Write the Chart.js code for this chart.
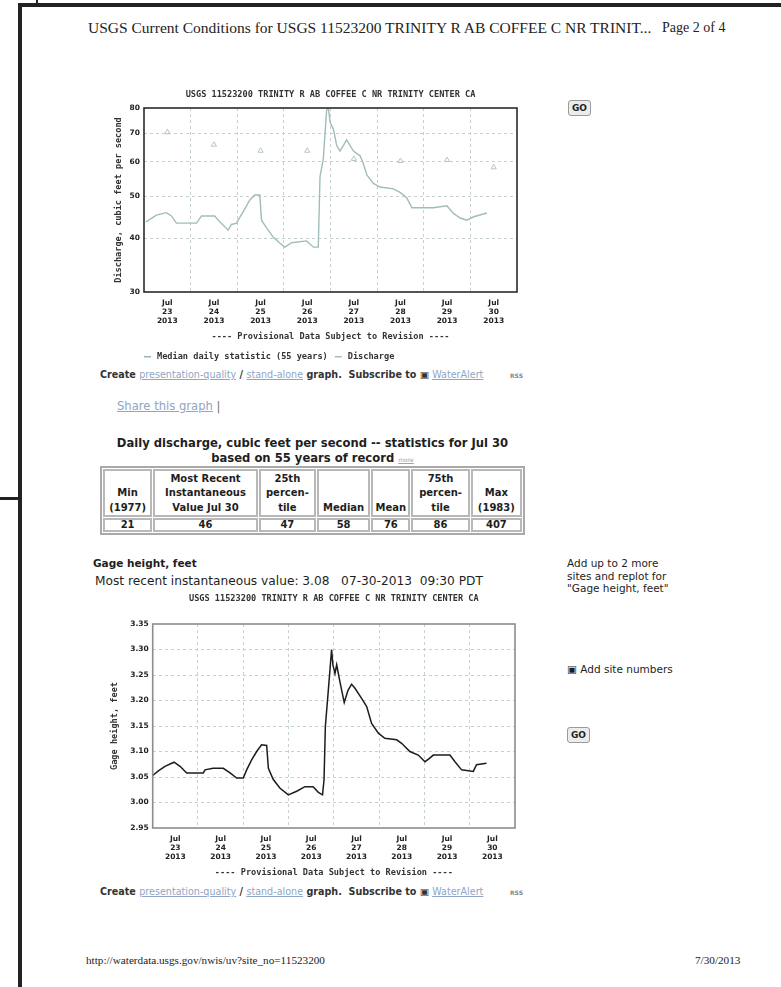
<!DOCTYPE html>
<html>
<head>
<meta charset="utf-8">
<script src="https://cdn.jsdelivr.net/npm/chart.js@4.4.1/dist/chart.umd.min.js"></script>
<style>
body { margin:0; width:781px; height:987px; background:#fff; position:relative; overflow:hidden; font-family:"DejaVu Sans", sans-serif; color:#1e1e1e; }
.abs { position:absolute; white-space:nowrap; }
.serif { font-family:"Liberation Serif", serif; font-size:15.5px; line-height:16px; color:#222; }
.link { color:#8fa6c4; text-decoration:underline; }
.go { position:absolute; z-index:2; width:21px; height:14px; border:1px solid #9a9a9a; border-radius:3px; background:#ececec; font:bold 9px "DejaVu Sans"; line-height:14px; text-align:center; }
.create { font:bold 9.6px "DejaVu Sans"; line-height:11px; color:#333; }
.create .link { font-weight:normal; }
table { position:absolute; border-collapse:separate; border-spacing:1px; border:2px solid #a9a9a9; table-layout:fixed; }
td { border:2px solid #b8b8b8; font:bold 10px "DejaVu Sans"; line-height:14.5px; text-align:center; padding:0; white-space:nowrap; }
tr.head td { vertical-align:bottom; height:44px; }
tr.vals td { line-height:10px; }
.rule { position:absolute; background:#222; }
</style>
</head>
<body>

<div class="rule" style="left:18px; top:3px; width:4px; height:984px;"></div>
<div class="rule" style="left:18px; top:3px; width:763px; height:4px;"></div>
<div class="rule" style="left:36px; top:0; width:2px; height:4px;"></div>
<div class="rule" style="left:0; top:497px; width:20px; height:3px;"></div>

<div class="abs serif" style="left:88px; top:20px;">USGS Current Conditions for USGS 11523200 TRINITY R AB COFFEE C NR TRINIT...</div>
<div class="abs serif" style="left:662px; top:20px; font-size:14px;">Page 2 of 4</div>

<div style="position:absolute; left:95px; top:84px; width:445px; height:282px;"><canvas id="flowChart" width="445" height="282"></canvas></div>
<div class="go" style="left:568px; top:100px;">GO</div>

<div class="abs create" style="left:100px; top:369px;">Create <span class="link">presentation-quality</span> / <span class="link">stand-alone</span> graph.&nbsp; Subscribe to &#9635; <span class="link">WaterAlert</span></div>
<div class="abs create" style="left:510px; top:370px; color:#888; font-size:6px;">RSS</div>

<div class="abs" style="left:117px; top:400px; font-size:11.6px; line-height:13px;"><span class="link">Share this graph</span> <span style="color:#777;">|</span></div>

<div class="abs" style="left:100px; top:436px; width:425px; text-align:center; font:bold 11.6px 'DejaVu Sans'; line-height:15px;">Daily discharge, cubic feet per second -- statistics for Jul 30<br>based on 55 years of record <span class="link" style="font:normal 6px 'DejaVu Sans';">more</span></div>

<table style="left:100px; top:466px; width:425px;">
  <colgroup><col style="width:49px"><col style="width:104px"><col style="width:57px"><col style="width:53px"><col style="width:39px"><col style="width:58px"><col style="width:51px"></colgroup>
  <tr class="head"><td>Min<br>(1977)</td><td>Most Recent<br>Instantaneous<br>Value Jul 30</td><td>25th<br>percen-<br>tile</td><td>Median</td><td>Mean</td><td>75th<br>percen-<br>tile</td><td>Max<br>(1983)</td></tr>
  <tr class="vals"><td>21</td><td>46</td><td>47</td><td>58</td><td>76</td><td>86</td><td>407</td></tr>
</table>

<div class="abs" style="left:93px; top:557px; font:bold 10.5px 'DejaVu Sans'; line-height:12px;">Gage height, feet</div>
<div class="abs" style="left:95px; top:575px; font-size:12.2px; line-height:12px;">Most recent instantaneous value: 3.08&nbsp;&nbsp; 07-30-2013&nbsp; 09:30 PDT</div>

<div class="abs" style="left:567px; top:557px; font-size:10.5px; line-height:12.5px;">Add up to 2 more<br>sites and replot for<br>"Gage height, feet"</div>
<div class="abs" style="left:567px; top:663px; font-size:10.5px; line-height:12px;">&#9635; Add site numbers</div>
<div class="go" style="left:567px; top:727px;">GO</div>

<div style="position:absolute; left:95px; top:588px; width:445px; height:295px;"><canvas id="gageChart" width="445" height="295"></canvas></div>

<div class="abs create" style="left:100px; top:886px;">Create <span class="link">presentation-quality</span> / <span class="link">stand-alone</span> graph.&nbsp; Subscribe to &#9635; <span class="link">WaterAlert</span></div>
<div class="abs create" style="left:510px; top:887px; color:#888; font-size:6px;">RSS</div>

<div class="abs serif" style="left:86px; top:954px; font-size:11.2px; line-height:12px;">http://waterdata.usgs.gov/nwis/uv?site_no=11523200</div>
<div class="abs serif" style="left:695px; top:954px; font-size:11.2px; line-height:12px;">7/30/2013</div>

<script>
// days shown on both graphs (Jul 23 - Jul 30, 2013); x values are hours after Jul 23 00:00
const dayLabels = ['23', '24', '25', '26', '27', '28', '29', '30'];

// discharge, cubic feet per second
const dischargeHours = [1, 6.4, 11.5, 14.1, 16.7, 27, 29.6, 36.4, 39, 43.3, 45, 47.6, 51, 54.5, 57, 59.6, 60.5, 63, 66.5, 70, 72.5, 76, 83.7, 87.2, 89.7, 90.6, 92.3, 94, 94.9, 95.8, 97.5, 99.2, 100.9, 104.3, 107.8, 111.2, 112.9, 114.7, 118.1, 121.5, 128.4, 131.8, 135.3, 137.9, 149, 155.9, 159.3, 162.8, 166.2, 169.7, 176.5];
const dischargeCfs = [43.6, 45.2, 45.8, 45, 43.3, 43.3, 45, 45, 43.6, 41.7, 43, 43.3, 46, 49, 50.3, 50.3, 44, 42.3, 40.2, 38.9, 38.1, 39, 39.4, 38.1, 38.1, 55.5, 61, 79, 80, 74, 71.5, 65.5, 63.6, 67.5, 63.6, 62, 59.5, 56, 53.5, 52.5, 52, 51, 49.5, 47, 47, 47.5, 45.6, 44.5, 44, 44.8, 45.7];

// median daily statistic (55 years), one per day at noon
const medianHours = [12, 36, 60, 84, 108, 132, 156, 180];
const medianCfs = [70.3, 65.8, 63.7, 63.7, 61, 60.3, 60.6, 58.3];
const cfsTicks = [30, 40, 50, 60, 70, 80];

// gage height, feet
const gageHours = [0, 3, 6.5, 11.3, 14.5, 18, 26.8, 27.7, 32, 37.4, 41, 44.5, 48, 49.8, 52.5, 55.1, 57.7, 60.4, 61.3, 63.9, 67.5, 71.9, 76.3, 80.7, 85, 87.8, 90, 90.8, 91.5, 93, 94, 94.8, 95.5, 96.6, 97.5, 99.2, 101.5, 103.5, 105.4, 107.2, 110.7, 113.4, 116, 119.6, 123, 129.3, 131.9, 136.3, 140.7, 144.3, 146.5, 148.7, 157.5, 160.2, 163.7, 169.9, 171.6, 176.9];
const gageFeet = [3.053, 3.062, 3.071, 3.079, 3.071, 3.058, 3.058, 3.064, 3.067, 3.067, 3.058, 3.048, 3.048, 3.064, 3.084, 3.100, 3.113, 3.112, 3.067, 3.045, 3.028, 3.015, 3.022, 3.031, 3.031, 3.020, 3.015, 3.045, 3.149, 3.217, 3.263, 3.300, 3.270, 3.253, 3.270, 3.237, 3.196, 3.220, 3.232, 3.224, 3.204, 3.188, 3.155, 3.136, 3.126, 3.123, 3.116, 3.100, 3.093, 3.080, 3.086, 3.093, 3.093, 3.080, 3.064, 3.061, 3.074, 3.077];
const gageTicks = [2.95, 3.00, 3.05, 3.10, 3.15, 3.20, 3.25, 3.30, 3.35];

const stationTitle = 'USGS 11523200 TRINITY R AB COFFEE C NR TRINITY CENTER CA';
const provisional = '---- Provisional Data Subject to Revision ----';
const monoFont = { family: 'DejaVu Sans Mono', size: 8.6, weight: 'bold', lineHeight: 1.2 };
const tickFont = { family: 'DejaVu Sans', size: 7.5, weight: 'bold', lineHeight: 1.2 };
const gridColor = '#c6d0d0';

// box round the plot area, station name centred over it, legend row under it
const framePlugin = {
    id: 'frame',
    afterDraw(chart, args, opts) {
        const a = chart.chartArea;
        const ctx = chart.ctx;
        ctx.save();
        ctx.strokeStyle = opts.color;
        ctx.lineWidth = opts.width;
        ctx.strokeRect(a.left, a.top, a.right - a.left, a.bottom - a.top);

        ctx.font = 'bold 8.6px "DejaVu Sans Mono"';
        ctx.fillStyle = '#333';
        ctx.textBaseline = 'middle';
        ctx.textAlign = 'center';
        ctx.fillText(opts.title, (a.left + a.right) / 2, opts.titleY);

        if (opts.legendY) {
            ctx.textAlign = 'left';
            let x = a.left;
            chart.data.datasets.forEach(ds => {
                ctx.strokeStyle = ds.legendColor || ds.borderColor;
                ctx.lineWidth = 1.5;
                ctx.beginPath();
                ctx.moveTo(x, opts.legendY);
                ctx.lineTo(x + 7, opts.legendY);
                ctx.stroke();
                x += 13;
                ctx.fillText(ds.label, x, opts.legendY);
                x += ctx.measureText(ds.label).width + 7;
            });
        }
        ctx.restore();
    }
};

const makeXAxis = (tickPad, axisHeight) => ({
    type: 'linear',
    min: 0,
    max: dayLabels.length * 24,
    afterBuildTicks: scale => {
        const ticks = [];
        for (let h = 0; h <= dayLabels.length * 24; h += 12) ticks.push({ value: h });
        scale.ticks = ticks;
    },
    afterFit: scale => { scale.height = axisHeight; },
    ticks: {
        autoSkip: false,
        maxRotation: 0,
        minRotation: 0,
        padding: tickPad,
        font: tickFont,
        color: '#222',
        callback: value => {
            const i = (value - 12) / 24;
            return Number.isInteger(i) && dayLabels[i] ? ['Jul', dayLabels[i], '2013'] : '';
        }
    },
    grid: {
        drawTicks: false,
        color: c => {
            const v = c.tick ? c.tick.value : 0;
            return (v % 24 === 0 && v > 0 && v < dayLabels.length * 24) ? gridColor : 'rgba(0,0,0,0)';
        }
    },
    border: { display: false, dash: [3, 3] },
    title: { display: true, text: provisional, font: monoFont, color: '#333', padding: { top: 0, bottom: 0 } }
});

const makeYAxis = (type, tickValues, label, format, axisWidth, titlePad) => ({
    type: type,
    min: tickValues[0],
    max: tickValues[tickValues.length - 1],
    afterBuildTicks: scale => { scale.ticks = tickValues.map(v => ({ value: v })); },
    afterFit: scale => { scale.width = axisWidth; },
    ticks: { padding: 4, font: tickFont, color: '#222', callback: format },
    grid: {
        drawTicks: false,
        color: c => {
            const v = c.tick ? c.tick.value : 0;
            return (v > tickValues[0] && v < tickValues[tickValues.length - 1]) ? gridColor : 'rgba(0,0,0,0)';
        }
    },
    border: { display: false, dash: [3, 3] },
    title: { display: true, text: label, font: monoFont, color: '#333', padding: { top: titlePad, bottom: 0 } }
});

new Chart(document.getElementById('flowChart').getContext('2d'), {
    type: 'line',
    data: {
        datasets: [
            {
                label: 'Median daily statistic (55 years)',
                data: medianHours.map((h, i) => ({ x: h, y: medianCfs[i] })),
                showLine: false,
                pointStyle: 'triangle',
                pointRadius: 3,
                borderWidth: 1,
                borderColor: '#b3c5c5',
                backgroundColor: 'rgba(0,0,0,0)',
                legendColor: '#9aaebb'
            },
            {
                label: 'Discharge',
                data: dischargeHours.map((h, i) => ({ x: h, y: dischargeCfs[i] })),
                borderColor: '#a2bcbc',
                borderWidth: 1.4,
                pointRadius: 0,
                tension: 0
            }
        ]
    },
    options: {
        responsive: false,
        animation: false,
        layout: { padding: { left: 0, right: 23, top: 24, bottom: 24.2 } },
        scales: {
            x: makeXAxis(6.5, 49.8),
            y: makeYAxis('logarithmic', cfsTicks, 'Discharge, cubic feet per second', v => String(v), 49, 18.2)
        },
        plugins: {
            legend: { display: false },
            tooltip: { enabled: false },
            frame: { color: '#2a2a2a', width: 1.6, title: stationTitle, titleY: 10.5, legendY: 272.7 }
        }
    },
    plugins: [framePlugin]
});

new Chart(document.getElementById('gageChart').getContext('2d'), {
    type: 'line',
    data: {
        datasets: [{
            label: 'Gage height',
            data: gageHours.map((h, i) => ({ x: h, y: gageFeet[i] })),
            borderColor: '#1c1c1c',
            borderWidth: 1.5,
            pointRadius: 0,
            tension: 0
        }]
    },
    options: {
        responsive: false,
        animation: false,
        layout: { padding: { left: 0, right: 25, top: 36, bottom: 4.9 } },
        scales: {
            x: makeXAxis(7, 50.1),
            y: makeYAxis('linear', gageTicks, 'Gage height, feet', v => v.toFixed(2), 57.7, 14.9)
        },
        plugins: {
            legend: { display: false },
            tooltip: { enabled: false },
            frame: { color: '#8c8c8c', width: 1.6, title: stationTitle, titleY: 10.5, legendY: 0 }
        }
    },
    plugins: [framePlugin]
});
</script>
</body>
</html>
